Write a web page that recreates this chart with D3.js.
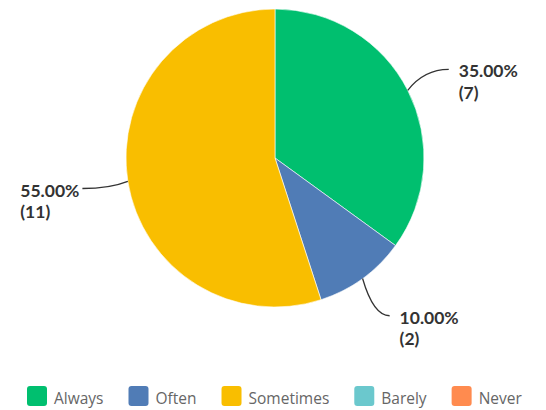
<!DOCTYPE html>
<html lang="en">
<meta charset="UTF-8">
<title>Pie chart</title>
<script src="https://d3js.org/d3.v7.min.js"></script>
<style>
  html, body { margin: 0; padding: 0; background: #fff; }
  body { font-family: "Open Sans", sans-serif; }
</style>
<body>
<div id="my_dataviz"></div>
<script>
// data
var categories = ["Always", "Often", "Sometimes", "Barely", "Never"];
var counts = [7, 2, 11, 0, 0];
var colors = ["#00bf6f", "#507cb6", "#f9be00", "#6bc8cd", "#ff8b4f"];

var width = 546, height = 410;
var cx = 275, cy = 158, radius = 149;

var svg = d3.select("#my_dataviz")
  .append("svg")
  .attr("width", width)
  .attr("height", height);

var total = d3.sum(counts);
var data = categories.map(function(c, i) { return { name: c, value: counts[i], color: colors[i] }; });

var pie = d3.pie().sort(null).value(function(d) { return d.value; });
var arcs = pie(data);
var arc = d3.arc().innerRadius(0).outerRadius(radius);
var edge = d3.arc().innerRadius(radius).outerRadius(radius);
var outer = d3.arc().innerRadius(radius + 46).outerRadius(radius + 46);

var g = svg.append("g").attr("transform", "translate(" + cx + "," + cy + ")");

// slices
g.selectAll("path.slice")
  .data(arcs.filter(function(d) { return d.value > 0; }))
  .enter()
  .append("path")
  .attr("class", "slice")
  .attr("d", arc)
  .attr("fill", function(d) { return d.data.color; })
  .attr("stroke", "#fff")
  .attr("stroke-width", 0.6);

// leader lines + labels (two separate text lines)
var labelled = arcs.filter(function(d) { return d.value > 0; });
labelled.forEach(function(d) {
  var s = edge.centroid(d);
  var e = outer.centroid(d);
  var right = e[0] >= 0;
  var c = [s[0] + (e[0] - s[0]) * 0.4, e[1]];
  g.append("path")
    .attr("d", "M" + s[0] + "," + s[1] + "Q" + c[0] + "," + c[1] + " " + e[0] + "," + e[1])
    .attr("fill", "none")
    .attr("stroke", "#333")
    .attr("stroke-width", 1.3);

  function label(txt) {
    return g.append("text")
      .attr("font-family", "Lato, sans-serif")
      .attr("font-weight", 700)
      .attr("font-size", "17.5px")
      .attr("fill", "#333")
      .text(txt);
  }
  var l1 = label((d.value / total * 100).toFixed(2) + "%");
  var l2 = label("(" + d.value + ")");
  var w = l1.node().getComputedTextLength();
  var tx = right ? e[0] + 10 : e[0] - 3 - w;
  l1.attr("x", tx).attr("y", e[1] + 8);
  l2.attr("x", tx).attr("y", e[1] + 29.5);
});

// legend
var legend = svg.append("g").attr("transform", "translate(27,386)");
var lx = 0;
data.forEach(function(d) {
  var item = legend.append("g").attr("transform", "translate(" + lx + ",0)");
  item.append("rect")
    .attr("width", 20).attr("height", 20)
    .attr("rx", 3)
    .attr("fill", d.color);
  var t = item.append("text")
    .attr("x", 27).attr("y", 18)
    .attr("font-family", "'Open Sans', sans-serif")
    .attr("font-size", "15.5px")
    .attr("fill", "#666")
    .text(d.name);
  lx += 27 + t.node().getComputedTextLength() + 25;
});
</script>
</body>
</html>
